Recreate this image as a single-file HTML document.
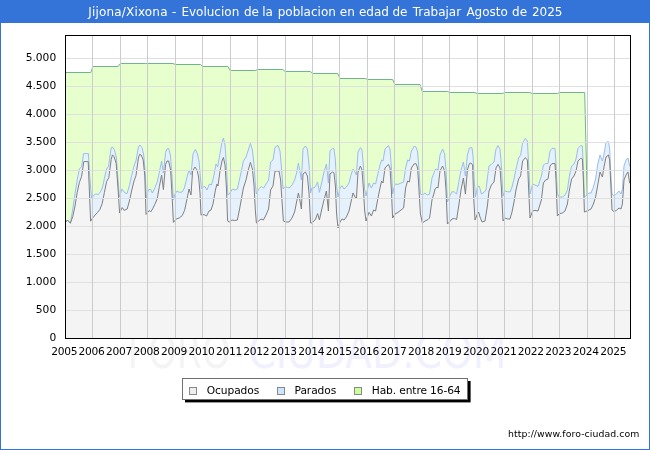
<!DOCTYPE html>
<html><head><meta charset="utf-8"><title>Jijona/Xixona</title>
<style>
html,body{margin:0;padding:0;background:#fff;overflow:hidden}
body{width:650px;height:450px;position:relative}
svg text{font-family:"DejaVu Sans","Liberation Sans",sans-serif;}
.ax{font-size:10.67px;fill:#000}
.lg{font-size:10.67px;fill:#000}
.url{font-size:9.33px;fill:#000}
.tt{font-size:12px;fill:#fff}
</style></head><body>
<svg width="650" height="450" viewBox="0 0 650 450" style="position:absolute;left:0;top:0">
<rect x="0" y="0" width="650" height="450" fill="#fff"/>
<g transform="translate(0,368.3) scale(1,1.3) translate(0,-368.3)" font-size="35.5" style="font-size:35.5px">
<text x="127.5" y="368.3" textLength="103" lengthAdjust="spacingAndGlyphs" fill="#f4f4f4" style="font-size:35.5px">FORO</text>
<text x="232" y="368.3" fill="#f4f4f4" style="font-size:35.5px">-</text>
<text x="248.5" y="368.3" textLength="258" lengthAdjust="spacingAndGlyphs" fill="#f0f0fe" style="font-size:35.5px">CIUDAD.COM</text>
</g>
<polygon fill="#e6ffcc" points="65.5,72.5 90.7,72.5 92.9,66.5 118.1,66.5 120.4,63.5 145.6,63.5 147.8,63.5 173.0,63.5 175.3,64.5 200.5,64.5 202.7,66.5 227.9,66.5 230.2,70.5 255.4,70.5 257.6,69.5 282.8,69.5 285.1,71.5 310.3,71.5 312.5,73.5 337.7,73.5 340.0,78.5 365.2,78.5 367.4,79.5 392.6,79.5 394.9,84.5 420.0,84.5 422.3,91.5 447.5,91.5 449.8,92.5 474.9,92.5 477.2,93.5 502.4,93.5 504.7,92.5 529.8,92.5 532.1,93.5 557.3,93.5 559.6,92.5 584.7,92.5 590.6,338.5 590.6,338.5 65.5,338.5"/>
<polyline fill="none" stroke="#70b58f" stroke-width="1" points="65.5,72.5 90.7,72.5 92.9,66.5 118.1,66.5 120.4,63.5 145.6,63.5 147.8,63.5 173.0,63.5 175.3,64.5 200.5,64.5 202.7,66.5 227.9,66.5 230.2,70.5 255.4,70.5 257.6,69.5 282.8,69.5 285.1,71.5 310.3,71.5 312.5,73.5 337.7,73.5 340.0,78.5 365.2,78.5 367.4,79.5 392.6,79.5 394.9,84.5 420.0,84.5 422.3,91.5 447.5,91.5 449.8,92.5 474.9,92.5 477.2,93.5 502.4,93.5 504.7,92.5 529.8,92.5 532.1,93.5 557.3,93.5 559.6,92.5 584.7,92.5 590.6,338.5"/>
<polygon fill="#e5f1fd" points="65.5,222.4 67.4,220.0 70.4,223.2 72.8,209.0 75.0,193.6 77.2,180.0 79.4,169.0 81.6,166.4 83.6,153.6 88.4,153.6 90.0,180.0 91.6,198.4 93.0,196.0 95.6,194.0 98.4,194.4 100.6,191.6 102.6,187.0 104.4,178.4 106.6,169.0 108.6,166.0 111.2,147.6 112.4,147.0 114.4,149.6 116.4,158.0 118.0,180.0 119.4,197.0 122.0,189.0 124.4,192.4 127.0,193.6 129.4,185.6 131.6,175.6 134.0,166.0 136.2,160.0 138.4,147.0 140.0,145.0 142.0,147.6 143.6,154.0 145.0,170.0 146.4,199.0 148.0,190.4 150.4,189.0 152.4,193.0 154.8,188.0 157.2,182.0 159.4,172.0 161.6,161.0 163.4,173.0 165.6,152.4 167.0,149.0 168.6,148.4 170.4,155.0 172.0,176.0 173.4,200.0 175.0,194.0 177.0,191.0 179.4,192.4 182.0,192.0 184.4,188.0 187.0,177.0 189.0,170.0 191.0,175.0 193.0,154.0 195.4,149.4 197.4,154.0 199.0,161.0 200.2,175.0 201.4,188.6 203.4,187.0 205.0,186.6 207.0,190.0 209.4,184.0 211.4,185.0 213.4,178.0 216.0,164.0 217.6,167.0 219.4,157.0 222.0,142.0 223.4,138.0 225.0,145.0 226.4,165.0 227.8,195.0 230.0,193.0 232.4,189.0 235.0,190.0 237.4,189.0 239.4,180.0 241.4,171.0 243.4,161.0 246.0,157.0 248.0,151.0 250.4,143.4 252.4,150.0 254.0,165.0 255.4,185.0 256.4,194.0 258.6,189.0 261.4,186.6 263.6,188.0 266.0,184.0 268.6,180.0 270.6,162.0 273.0,160.0 275.0,147.4 278.0,145.4 280.0,151.0 281.4,167.0 283.0,189.0 285.0,186.6 287.4,187.4 289.4,188.0 292.0,185.0 294.6,180.0 296.6,173.0 298.4,163.0 300.0,172.0 301.4,180.0 303.0,149.0 305.4,146.0 307.4,149.0 309.0,165.0 310.6,193.0 312.0,187.6 314.0,188.0 315.6,186.0 317.6,182.0 319.4,192.4 321.6,183.0 324.0,172.0 326.4,164.0 328.4,183.0 330.0,151.0 332.4,148.4 334.0,149.0 335.4,160.0 336.6,186.0 338.0,197.0 340.0,188.0 342.0,185.6 344.0,189.0 346.4,187.0 349.0,183.0 351.0,175.0 353.0,169.0 355.0,172.0 356.4,175.0 358.0,152.0 360.4,147.6 362.0,150.0 363.4,166.0 364.6,189.0 366.0,196.0 369.0,183.0 371.4,188.0 373.6,183.0 375.6,184.0 377.6,175.0 380.0,165.0 381.6,160.0 383.0,161.0 385.0,149.0 388.4,145.6 390.0,149.0 391.4,168.0 392.6,194.0 395.0,184.0 398.0,184.4 401.0,183.0 403.6,182.0 405.6,168.0 407.6,160.0 409.4,161.0 411.4,151.0 414.0,146.4 416.0,147.0 417.6,152.0 419.0,170.0 420.4,194.0 422.4,195.0 425.0,193.0 427.0,195.0 429.6,194.0 432.0,178.0 434.4,172.0 435.0,169.6 437.0,169.0 438.0,170.0 440.0,155.0 442.6,149.0 444.6,154.0 446.0,170.0 447.4,202.0 449.4,197.0 452.0,191.6 454.4,192.0 456.6,194.0 459.0,181.0 461.0,170.0 463.4,162.0 465.4,176.0 467.4,155.0 469.4,148.0 472.0,147.6 473.0,156.0 474.2,180.0 475.4,197.0 477.4,187.0 479.4,186.4 481.4,194.0 484.0,192.4 486.0,190.0 487.4,178.0 489.0,166.0 491.4,164.4 494.0,162.0 496.0,149.0 498.0,145.6 500.0,149.0 501.4,166.0 503.0,196.0 505.0,191.0 507.4,191.6 510.0,192.0 512.0,187.0 514.0,179.0 516.0,169.0 518.6,158.0 520.6,155.0 522.6,143.0 525.4,138.4 527.4,141.0 528.6,164.0 530.0,194.0 532.6,184.0 535.0,185.0 538.0,186.4 541.4,176.0 543.4,165.0 545.6,163.6 548.0,163.6 550.0,151.0 552.0,148.4 555.0,148.4 556.0,164.0 557.4,194.0 559.4,197.0 562.4,197.0 565.0,195.0 567.4,190.0 569.4,176.0 571.6,166.0 574.0,164.0 576.0,159.0 578.0,148.4 580.6,145.6 582.4,146.0 583.4,170.0 584.4,197.0 587.0,195.0 589.0,193.0 591.0,193.0 593.4,187.0 595.6,179.0 597.6,165.0 600.0,155.0 602.4,161.0 604.0,154.0 606.0,142.4 608.4,141.6 609.6,148.0 610.6,170.0 612.0,194.0 614.0,196.0 616.4,194.0 619.0,191.0 621.0,194.0 622.4,189.0 624.0,166.0 626.0,160.0 628.0,158.0 629.6,166.0 630.5,166.0 630.5,338.5 65.5,338.5"/>
<polygon fill="#f4f4f4" points="65.5,222.4 67.4,220.0 70.4,223.2 72.8,216.4 75.0,206.0 77.2,192.4 79.4,182.4 81.6,176.4 83.8,161.6 88.2,161.6 90.6,221.2 92.6,218.0 95.2,215.0 97.6,212.4 99.8,209.6 102.2,203.6 104.4,192.4 106.6,181.6 108.8,177.6 111.2,159.6 112.4,155.0 114.0,156.4 116.2,163.6 118.2,191.0 119.6,213.0 122.2,207.6 124.2,210.4 127.2,209.0 129.4,201.0 131.6,191.0 134.0,181.0 136.0,175.6 138.4,158.0 139.6,154.4 141.2,155.0 143.2,160.0 144.8,176.0 146.0,214.4 149.4,210.4 150.6,212.0 152.6,209.0 154.8,204.4 157.2,199.0 159.4,186.4 161.6,175.0 163.4,189.6 165.6,164.4 167.0,161.0 168.6,161.0 170.6,170.0 172.2,198.0 173.4,222.4 176.2,219.0 179.2,218.0 182.2,215.6 184.6,210.4 187.0,199.0 189.0,189.0 191.0,195.0 192.6,171.0 195.0,167.0 197.0,170.0 198.6,177.0 200.0,193.0 201.0,215.0 204.0,214.6 206.6,216.0 209.0,211.0 211.0,210.0 213.0,204.0 215.4,190.0 217.0,184.0 218.0,186.0 220.0,171.0 222.0,161.0 223.4,157.4 225.0,165.0 226.4,187.0 227.6,221.0 229.4,222.0 232.0,220.0 234.6,220.6 237.4,220.0 239.4,210.0 241.4,199.0 243.4,188.0 246.0,180.0 248.0,171.0 250.4,162.4 252.4,169.0 254.0,185.0 255.4,211.0 256.4,223.0 258.6,221.0 261.0,219.0 263.4,220.0 266.0,215.0 268.6,209.0 270.6,190.0 273.0,186.0 275.0,171.0 279.0,171.0 280.6,180.0 282.0,201.0 283.4,221.0 286.0,222.0 289.0,222.0 292.0,218.0 294.6,212.0 296.6,202.0 298.4,193.0 300.0,201.0 301.4,209.0 303.0,174.0 305.4,172.0 307.4,176.0 309.0,193.0 310.6,223.0 312.0,223.0 314.0,221.0 315.6,219.0 317.6,213.6 319.4,220.0 321.6,210.0 324.0,200.0 326.4,191.0 328.4,211.0 330.0,174.0 332.4,172.0 334.0,173.0 335.4,186.0 336.6,214.0 338.0,228.0 340.0,222.0 342.0,219.0 344.0,220.0 346.4,217.0 349.0,211.0 351.0,202.0 353.0,193.0 355.0,197.0 356.4,199.0 358.0,172.0 360.4,166.0 362.0,170.0 363.4,189.0 364.6,210.0 366.0,221.0 369.0,212.4 371.4,216.0 373.6,210.0 375.6,211.0 377.6,200.0 380.0,188.0 381.6,181.0 383.0,183.0 385.0,168.0 388.4,164.4 390.0,168.0 391.4,190.0 392.6,218.0 395.0,214.0 398.0,212.4 401.0,210.0 403.6,208.0 405.6,188.0 407.6,181.0 409.4,182.0 411.4,168.0 414.0,164.0 416.0,163.6 417.6,168.0 419.0,190.0 420.4,214.0 422.4,223.0 425.0,221.0 428.0,219.6 429.6,218.0 432.0,200.0 434.4,192.0 435.0,189.0 437.0,187.0 438.0,188.0 440.0,171.0 442.6,166.0 444.6,171.0 446.0,190.0 447.4,224.0 449.4,222.0 452.0,219.0 454.4,218.4 456.6,219.6 459.0,204.0 461.0,190.0 463.4,178.0 465.4,194.0 467.4,170.0 469.4,163.6 471.0,163.0 472.6,165.0 473.6,196.0 475.0,220.0 477.0,215.0 478.6,212.0 480.0,217.0 482.0,222.0 485.0,221.0 487.4,206.0 489.0,191.0 491.4,185.0 494.0,182.0 496.0,168.0 498.0,164.4 500.0,168.0 501.4,188.0 503.0,221.0 505.0,218.0 507.4,219.0 510.0,219.0 512.0,212.0 514.0,202.0 516.0,190.0 518.6,179.0 520.6,176.0 522.6,161.0 525.4,157.6 527.4,160.0 528.6,188.0 530.0,218.0 532.6,211.0 535.0,210.4 538.0,211.0 541.4,200.0 543.4,183.0 545.6,180.0 548.0,179.0 550.0,166.0 552.0,163.6 555.0,163.6 556.0,180.0 557.4,216.0 559.4,213.6 562.4,213.0 565.0,211.0 567.4,204.0 569.4,190.0 571.6,179.0 574.0,176.0 576.0,171.0 578.0,161.0 580.6,158.4 582.4,159.0 583.4,180.0 584.4,212.0 587.0,211.0 589.0,210.0 591.0,209.0 593.4,204.0 595.6,197.0 597.6,186.0 600.0,172.0 602.4,177.0 604.0,167.0 606.0,157.0 608.4,155.0 609.6,160.0 610.6,180.0 612.0,210.0 614.0,211.6 616.4,210.4 619.0,208.0 621.0,209.0 622.4,204.0 624.0,180.0 626.0,175.0 628.0,172.0 629.6,183.0 630.5,183.0 630.5,338.5 65.5,338.5"/>
<polyline fill="none" stroke="#9bbcf0" stroke-width="1" stroke-linejoin="round" points="65.5,222.4 67.4,220.0 70.4,223.2 72.8,209.0 75.0,193.6 77.2,180.0 79.4,169.0 81.6,166.4 83.6,153.6 88.4,153.6 90.0,180.0 91.6,198.4 93.0,196.0 95.6,194.0 98.4,194.4 100.6,191.6 102.6,187.0 104.4,178.4 106.6,169.0 108.6,166.0 111.2,147.6 112.4,147.0 114.4,149.6 116.4,158.0 118.0,180.0 119.4,197.0 122.0,189.0 124.4,192.4 127.0,193.6 129.4,185.6 131.6,175.6 134.0,166.0 136.2,160.0 138.4,147.0 140.0,145.0 142.0,147.6 143.6,154.0 145.0,170.0 146.4,199.0 148.0,190.4 150.4,189.0 152.4,193.0 154.8,188.0 157.2,182.0 159.4,172.0 161.6,161.0 163.4,173.0 165.6,152.4 167.0,149.0 168.6,148.4 170.4,155.0 172.0,176.0 173.4,200.0 175.0,194.0 177.0,191.0 179.4,192.4 182.0,192.0 184.4,188.0 187.0,177.0 189.0,170.0 191.0,175.0 193.0,154.0 195.4,149.4 197.4,154.0 199.0,161.0 200.2,175.0 201.4,188.6 203.4,187.0 205.0,186.6 207.0,190.0 209.4,184.0 211.4,185.0 213.4,178.0 216.0,164.0 217.6,167.0 219.4,157.0 222.0,142.0 223.4,138.0 225.0,145.0 226.4,165.0 227.8,195.0 230.0,193.0 232.4,189.0 235.0,190.0 237.4,189.0 239.4,180.0 241.4,171.0 243.4,161.0 246.0,157.0 248.0,151.0 250.4,143.4 252.4,150.0 254.0,165.0 255.4,185.0 256.4,194.0 258.6,189.0 261.4,186.6 263.6,188.0 266.0,184.0 268.6,180.0 270.6,162.0 273.0,160.0 275.0,147.4 278.0,145.4 280.0,151.0 281.4,167.0 283.0,189.0 285.0,186.6 287.4,187.4 289.4,188.0 292.0,185.0 294.6,180.0 296.6,173.0 298.4,163.0 300.0,172.0 301.4,180.0 303.0,149.0 305.4,146.0 307.4,149.0 309.0,165.0 310.6,193.0 312.0,187.6 314.0,188.0 315.6,186.0 317.6,182.0 319.4,192.4 321.6,183.0 324.0,172.0 326.4,164.0 328.4,183.0 330.0,151.0 332.4,148.4 334.0,149.0 335.4,160.0 336.6,186.0 338.0,197.0 340.0,188.0 342.0,185.6 344.0,189.0 346.4,187.0 349.0,183.0 351.0,175.0 353.0,169.0 355.0,172.0 356.4,175.0 358.0,152.0 360.4,147.6 362.0,150.0 363.4,166.0 364.6,189.0 366.0,196.0 369.0,183.0 371.4,188.0 373.6,183.0 375.6,184.0 377.6,175.0 380.0,165.0 381.6,160.0 383.0,161.0 385.0,149.0 388.4,145.6 390.0,149.0 391.4,168.0 392.6,194.0 395.0,184.0 398.0,184.4 401.0,183.0 403.6,182.0 405.6,168.0 407.6,160.0 409.4,161.0 411.4,151.0 414.0,146.4 416.0,147.0 417.6,152.0 419.0,170.0 420.4,194.0 422.4,195.0 425.0,193.0 427.0,195.0 429.6,194.0 432.0,178.0 434.4,172.0 435.0,169.6 437.0,169.0 438.0,170.0 440.0,155.0 442.6,149.0 444.6,154.0 446.0,170.0 447.4,202.0 449.4,197.0 452.0,191.6 454.4,192.0 456.6,194.0 459.0,181.0 461.0,170.0 463.4,162.0 465.4,176.0 467.4,155.0 469.4,148.0 472.0,147.6 473.0,156.0 474.2,180.0 475.4,197.0 477.4,187.0 479.4,186.4 481.4,194.0 484.0,192.4 486.0,190.0 487.4,178.0 489.0,166.0 491.4,164.4 494.0,162.0 496.0,149.0 498.0,145.6 500.0,149.0 501.4,166.0 503.0,196.0 505.0,191.0 507.4,191.6 510.0,192.0 512.0,187.0 514.0,179.0 516.0,169.0 518.6,158.0 520.6,155.0 522.6,143.0 525.4,138.4 527.4,141.0 528.6,164.0 530.0,194.0 532.6,184.0 535.0,185.0 538.0,186.4 541.4,176.0 543.4,165.0 545.6,163.6 548.0,163.6 550.0,151.0 552.0,148.4 555.0,148.4 556.0,164.0 557.4,194.0 559.4,197.0 562.4,197.0 565.0,195.0 567.4,190.0 569.4,176.0 571.6,166.0 574.0,164.0 576.0,159.0 578.0,148.4 580.6,145.6 582.4,146.0 583.4,170.0 584.4,197.0 587.0,195.0 589.0,193.0 591.0,193.0 593.4,187.0 595.6,179.0 597.6,165.0 600.0,155.0 602.4,161.0 604.0,154.0 606.0,142.4 608.4,141.6 609.6,148.0 610.6,170.0 612.0,194.0 614.0,196.0 616.4,194.0 619.0,191.0 621.0,194.0 622.4,189.0 624.0,166.0 626.0,160.0 628.0,158.0 629.6,166.0 630.5,166.0"/>
<polyline fill="none" stroke="#808080" stroke-width="1" stroke-linejoin="round" points="65.5,222.4 67.4,220.0 70.4,223.2 72.8,216.4 75.0,206.0 77.2,192.4 79.4,182.4 81.6,176.4 83.8,161.6 88.2,161.6 90.6,221.2 92.6,218.0 95.2,215.0 97.6,212.4 99.8,209.6 102.2,203.6 104.4,192.4 106.6,181.6 108.8,177.6 111.2,159.6 112.4,155.0 114.0,156.4 116.2,163.6 118.2,191.0 119.6,213.0 122.2,207.6 124.2,210.4 127.2,209.0 129.4,201.0 131.6,191.0 134.0,181.0 136.0,175.6 138.4,158.0 139.6,154.4 141.2,155.0 143.2,160.0 144.8,176.0 146.0,214.4 149.4,210.4 150.6,212.0 152.6,209.0 154.8,204.4 157.2,199.0 159.4,186.4 161.6,175.0 163.4,189.6 165.6,164.4 167.0,161.0 168.6,161.0 170.6,170.0 172.2,198.0 173.4,222.4 176.2,219.0 179.2,218.0 182.2,215.6 184.6,210.4 187.0,199.0 189.0,189.0 191.0,195.0 192.6,171.0 195.0,167.0 197.0,170.0 198.6,177.0 200.0,193.0 201.0,215.0 204.0,214.6 206.6,216.0 209.0,211.0 211.0,210.0 213.0,204.0 215.4,190.0 217.0,184.0 218.0,186.0 220.0,171.0 222.0,161.0 223.4,157.4 225.0,165.0 226.4,187.0 227.6,221.0 229.4,222.0 232.0,220.0 234.6,220.6 237.4,220.0 239.4,210.0 241.4,199.0 243.4,188.0 246.0,180.0 248.0,171.0 250.4,162.4 252.4,169.0 254.0,185.0 255.4,211.0 256.4,223.0 258.6,221.0 261.0,219.0 263.4,220.0 266.0,215.0 268.6,209.0 270.6,190.0 273.0,186.0 275.0,171.0 279.0,171.0 280.6,180.0 282.0,201.0 283.4,221.0 286.0,222.0 289.0,222.0 292.0,218.0 294.6,212.0 296.6,202.0 298.4,193.0 300.0,201.0 301.4,209.0 303.0,174.0 305.4,172.0 307.4,176.0 309.0,193.0 310.6,223.0 312.0,223.0 314.0,221.0 315.6,219.0 317.6,213.6 319.4,220.0 321.6,210.0 324.0,200.0 326.4,191.0 328.4,211.0 330.0,174.0 332.4,172.0 334.0,173.0 335.4,186.0 336.6,214.0 338.0,228.0 340.0,222.0 342.0,219.0 344.0,220.0 346.4,217.0 349.0,211.0 351.0,202.0 353.0,193.0 355.0,197.0 356.4,199.0 358.0,172.0 360.4,166.0 362.0,170.0 363.4,189.0 364.6,210.0 366.0,221.0 369.0,212.4 371.4,216.0 373.6,210.0 375.6,211.0 377.6,200.0 380.0,188.0 381.6,181.0 383.0,183.0 385.0,168.0 388.4,164.4 390.0,168.0 391.4,190.0 392.6,218.0 395.0,214.0 398.0,212.4 401.0,210.0 403.6,208.0 405.6,188.0 407.6,181.0 409.4,182.0 411.4,168.0 414.0,164.0 416.0,163.6 417.6,168.0 419.0,190.0 420.4,214.0 422.4,223.0 425.0,221.0 428.0,219.6 429.6,218.0 432.0,200.0 434.4,192.0 435.0,189.0 437.0,187.0 438.0,188.0 440.0,171.0 442.6,166.0 444.6,171.0 446.0,190.0 447.4,224.0 449.4,222.0 452.0,219.0 454.4,218.4 456.6,219.6 459.0,204.0 461.0,190.0 463.4,178.0 465.4,194.0 467.4,170.0 469.4,163.6 471.0,163.0 472.6,165.0 473.6,196.0 475.0,220.0 477.0,215.0 478.6,212.0 480.0,217.0 482.0,222.0 485.0,221.0 487.4,206.0 489.0,191.0 491.4,185.0 494.0,182.0 496.0,168.0 498.0,164.4 500.0,168.0 501.4,188.0 503.0,221.0 505.0,218.0 507.4,219.0 510.0,219.0 512.0,212.0 514.0,202.0 516.0,190.0 518.6,179.0 520.6,176.0 522.6,161.0 525.4,157.6 527.4,160.0 528.6,188.0 530.0,218.0 532.6,211.0 535.0,210.4 538.0,211.0 541.4,200.0 543.4,183.0 545.6,180.0 548.0,179.0 550.0,166.0 552.0,163.6 555.0,163.6 556.0,180.0 557.4,216.0 559.4,213.6 562.4,213.0 565.0,211.0 567.4,204.0 569.4,190.0 571.6,179.0 574.0,176.0 576.0,171.0 578.0,161.0 580.6,158.4 582.4,159.0 583.4,180.0 584.4,212.0 587.0,211.0 589.0,210.0 591.0,209.0 593.4,204.0 595.6,197.0 597.6,186.0 600.0,172.0 602.4,177.0 604.0,167.0 606.0,157.0 608.4,155.0 609.6,160.0 610.6,180.0 612.0,210.0 614.0,211.6 616.4,210.4 619.0,208.0 621.0,209.0 622.4,204.0 624.0,180.0 626.0,175.0 628.0,172.0 629.6,183.0 630.5,183.0"/>
<line x1="65.5" y1="310.5" x2="630.5" y2="310.5" stroke="#e0e0e0" stroke-width="1"/>
<line x1="65.5" y1="282.5" x2="630.5" y2="282.5" stroke="#e0e0e0" stroke-width="1"/>
<line x1="65.5" y1="254.5" x2="630.5" y2="254.5" stroke="#e0e0e0" stroke-width="1"/>
<line x1="65.5" y1="226.5" x2="630.5" y2="226.5" stroke="#e0e0e0" stroke-width="1"/>
<line x1="65.5" y1="198.5" x2="630.5" y2="198.5" stroke="#e0e0e0" stroke-width="1"/>
<line x1="65.5" y1="170.5" x2="630.5" y2="170.5" stroke="#e0e0e0" stroke-width="1"/>
<line x1="65.5" y1="142.5" x2="630.5" y2="142.5" stroke="#e0e0e0" stroke-width="1"/>
<line x1="65.5" y1="114.5" x2="630.5" y2="114.5" stroke="#e0e0e0" stroke-width="1"/>
<line x1="65.5" y1="86.5" x2="630.5" y2="86.5" stroke="#e0e0e0" stroke-width="1"/>
<line x1="65.5" y1="58.5" x2="630.5" y2="58.5" stroke="#e0e0e0" stroke-width="1"/>
<line x1="92.5" y1="35.5" x2="92.5" y2="338.5" stroke="#cccccc" stroke-width="1"/>
<line x1="120.5" y1="35.5" x2="120.5" y2="338.5" stroke="#cccccc" stroke-width="1"/>
<line x1="147.5" y1="35.5" x2="147.5" y2="338.5" stroke="#cccccc" stroke-width="1"/>
<line x1="175.5" y1="35.5" x2="175.5" y2="338.5" stroke="#cccccc" stroke-width="1"/>
<line x1="202.5" y1="35.5" x2="202.5" y2="338.5" stroke="#cccccc" stroke-width="1"/>
<line x1="230.5" y1="35.5" x2="230.5" y2="338.5" stroke="#cccccc" stroke-width="1"/>
<line x1="257.5" y1="35.5" x2="257.5" y2="338.5" stroke="#cccccc" stroke-width="1"/>
<line x1="285.5" y1="35.5" x2="285.5" y2="338.5" stroke="#cccccc" stroke-width="1"/>
<line x1="312.5" y1="35.5" x2="312.5" y2="338.5" stroke="#cccccc" stroke-width="1"/>
<line x1="339.5" y1="35.5" x2="339.5" y2="338.5" stroke="#cccccc" stroke-width="1"/>
<line x1="367.5" y1="35.5" x2="367.5" y2="338.5" stroke="#cccccc" stroke-width="1"/>
<line x1="394.5" y1="35.5" x2="394.5" y2="338.5" stroke="#cccccc" stroke-width="1"/>
<line x1="422.5" y1="35.5" x2="422.5" y2="338.5" stroke="#cccccc" stroke-width="1"/>
<line x1="449.5" y1="35.5" x2="449.5" y2="338.5" stroke="#cccccc" stroke-width="1"/>
<line x1="477.5" y1="35.5" x2="477.5" y2="338.5" stroke="#cccccc" stroke-width="1"/>
<line x1="504.5" y1="35.5" x2="504.5" y2="338.5" stroke="#cccccc" stroke-width="1"/>
<line x1="532.5" y1="35.5" x2="532.5" y2="338.5" stroke="#cccccc" stroke-width="1"/>
<line x1="559.5" y1="35.5" x2="559.5" y2="338.5" stroke="#cccccc" stroke-width="1"/>
<line x1="587.5" y1="35.5" x2="587.5" y2="338.5" stroke="#cccccc" stroke-width="1"/>
<line x1="614.5" y1="35.5" x2="614.5" y2="338.5" stroke="#cccccc" stroke-width="1"/>
<rect x="65.5" y="35.5" width="565.0" height="303.0" fill="none" stroke="#000" stroke-width="1"/>
<text x="56.2" y="340.8" text-anchor="end" class="ax">0</text>
<text x="56.2" y="312.8" text-anchor="end" class="ax">500</text>
<text x="56.2" y="284.8" text-anchor="end" class="ax">1.000</text>
<text x="56.2" y="256.8" text-anchor="end" class="ax">1.500</text>
<text x="56.2" y="228.8" text-anchor="end" class="ax">2.000</text>
<text x="56.2" y="200.8" text-anchor="end" class="ax">2.500</text>
<text x="56.2" y="172.8" text-anchor="end" class="ax">3.000</text>
<text x="56.2" y="144.8" text-anchor="end" class="ax">3.500</text>
<text x="56.2" y="116.8" text-anchor="end" class="ax">4.000</text>
<text x="56.2" y="88.8" text-anchor="end" class="ax">4.500</text>
<text x="56.2" y="60.8" text-anchor="end" class="ax">5.000</text>
<text x="51.2" y="355" textLength="26.3" lengthAdjust="spacing" class="ax">2005</text>
<text x="78.6" y="355" textLength="26.3" lengthAdjust="spacing" class="ax">2006</text>
<text x="106.1" y="355" textLength="26.3" lengthAdjust="spacing" class="ax">2007</text>
<text x="133.5" y="355" textLength="26.3" lengthAdjust="spacing" class="ax">2008</text>
<text x="161.0" y="355" textLength="26.3" lengthAdjust="spacing" class="ax">2009</text>
<text x="188.4" y="355" textLength="26.3" lengthAdjust="spacing" class="ax">2010</text>
<text x="215.9" y="355" textLength="26.3" lengthAdjust="spacing" class="ax">2011</text>
<text x="243.3" y="355" textLength="26.3" lengthAdjust="spacing" class="ax">2012</text>
<text x="270.8" y="355" textLength="26.3" lengthAdjust="spacing" class="ax">2013</text>
<text x="298.2" y="355" textLength="26.3" lengthAdjust="spacing" class="ax">2014</text>
<text x="325.7" y="355" textLength="26.3" lengthAdjust="spacing" class="ax">2015</text>
<text x="353.1" y="355" textLength="26.3" lengthAdjust="spacing" class="ax">2016</text>
<text x="380.6" y="355" textLength="26.3" lengthAdjust="spacing" class="ax">2017</text>
<text x="408.0" y="355" textLength="26.3" lengthAdjust="spacing" class="ax">2018</text>
<text x="435.5" y="355" textLength="26.3" lengthAdjust="spacing" class="ax">2019</text>
<text x="462.9" y="355" textLength="26.3" lengthAdjust="spacing" class="ax">2020</text>
<text x="490.4" y="355" textLength="26.3" lengthAdjust="spacing" class="ax">2021</text>
<text x="517.8" y="355" textLength="26.3" lengthAdjust="spacing" class="ax">2022</text>
<text x="545.3" y="355" textLength="26.3" lengthAdjust="spacing" class="ax">2023</text>
<text x="572.7" y="355" textLength="26.3" lengthAdjust="spacing" class="ax">2024</text>
<text x="600.2" y="355" textLength="26.3" lengthAdjust="spacing" class="ax">2025</text>
<rect x="185" y="381" width="285.6" height="21.4" fill="#000"/>
<rect x="182.5" y="378.5" width="285" height="21" fill="#fff" stroke="#707070" stroke-width="1"/>
<rect x="189.5" y="387.5" width="7" height="7" fill="#eeeeee" stroke="#888" stroke-width="1"/>
<text x="206.7" y="393.8" textLength="52.6" lengthAdjust="spacing" class="lg">Ocupados</text>
<rect x="277.5" y="387.5" width="7" height="7" fill="#cce6ff" stroke="#888" stroke-width="1"/>
<text x="294.6" y="393.8" textLength="41.6" lengthAdjust="spacing" class="lg">Parados</text>
<rect x="354.5" y="387.5" width="7" height="7" fill="#ccff99" stroke="#888" stroke-width="1"/>
<text x="371.8" y="393.8" textLength="88.8" lengthAdjust="spacing" class="lg">Hab. entre 16-64</text>
<text x="508" y="437.2" textLength="131.3" lengthAdjust="spacing" class="url">http://www.foro-ciudad.com</text>
<rect x="0.5" y="0.5" width="649" height="449" fill="none" stroke="#3473d7" stroke-width="1"/>
<rect x="0" y="22" width="650" height="1" fill="#3473d7"/>
<rect x="0" y="0" width="650" height="22" fill="#3473d7"/>
<text y="16.2" class="tt"><tspan x="88.3" textLength="79.2" lengthAdjust="spacing">Jijona/Xixona</tspan> <tspan x="171.9">-</tspan> <tspan x="181.4">Evolucion</tspan> <tspan x="243.9">de</tspan> <tspan x="262.2">la</tspan> <tspan x="277.7">poblacion</tspan> <tspan x="339.8">en</tspan> <tspan x="358.9">edad</tspan> <tspan x="392.5">de</tspan> <tspan x="412.7">Trabajar</tspan> <tspan x="466.4">Agosto</tspan> <tspan x="512.1">de</tspan> <tspan x="531.9">2025</tspan></text>
</svg>
</body></html>
